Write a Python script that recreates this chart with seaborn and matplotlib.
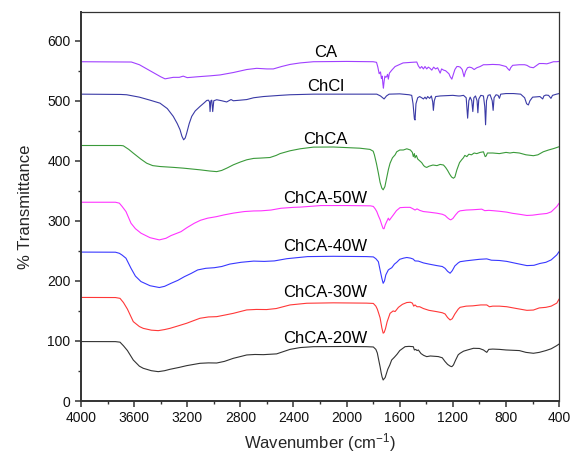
import numpy as np
import pandas as pd
import seaborn as sns
import matplotlib
matplotlib.use("Agg")
import matplotlib.pyplot as plt
from matplotlib.ticker import MultipleLocator

# FTIR spectra (wavenumber in cm-1, % transmittance, stacked offsets)
ca_wn = [4000, 3620, 3560, 3480, 3400, 3367, 3330, 3305, 3260, 3230, 3200, 3120, 3028, 2953, 2853,
         2752, 2677, 2600, 2552, 2490, 2426, 2350, 2250, 2000, 1800, 1775, 1765, 1755, 1745, 1738,
         1732, 1727, 1723, 1718, 1712, 1705, 1698, 1692, 1686, 1678, 1660, 1635, 1575, 1510, 1472,
         1460, 1447, 1435, 1422, 1410, 1397, 1385, 1372, 1359, 1345, 1330, 1315, 1296, 1285, 1270,
         1255, 1240, 1230, 1220, 1208, 1198, 1185, 1170, 1159, 1145, 1130, 1116, 1105, 1090, 1075,
         1058, 1040, 1020, 995, 970, 945, 900, 850, 800, 785, 774, 765, 750, 700, 660, 643, 620,
         594, 575, 550, 520, 493, 470, 443, 420, 400]
ca_t = [565, 564.5, 560, 550, 540, 536.5, 538, 539, 539, 541, 538.5, 540, 541.5, 543, 547,
        552, 554, 553, 553, 557, 560.5, 563, 565, 565.5, 565, 564, 556, 545, 548, 537,
        541, 528, 521, 532, 541, 539, 540.5, 544, 536, 546, 551, 557, 563, 564, 564.5,
        558, 554, 557, 553, 557, 553, 556, 554, 551, 556, 553, 555, 546, 553, 551,
        550, 547, 545, 540, 536, 543, 552, 557, 557, 556, 552, 540, 549, 555, 556,
        555, 552, 555, 557, 560, 560, 560.5, 560, 557, 553, 550.5, 555, 559, 560, 560, 559, 556,
        555, 558, 562, 562, 561.5, 563, 565, 565, 565.5]

chcl_wn = [4000, 3700, 3656, 3560, 3480, 3405, 3350, 3305, 3275, 3254, 3240, 3227, 3215, 3204,
           3185, 3166, 3140, 3104, 3070, 3053, 3040, 3032, 3028, 3022, 3015, 3008, 3000, 2978,
           2940, 2903, 2870, 2853, 2800, 2752, 2700, 2627, 2500, 2426, 2250, 1800, 1773, 1745,
           1718, 1700, 1680, 1600, 1530, 1510, 1500, 1490, 1485, 1478, 1465, 1450, 1435, 1422,
           1410, 1400, 1390, 1375, 1362, 1352, 1347, 1340, 1330, 1296, 1250, 1200, 1160, 1146,
           1120, 1100, 1089, 1080, 1070, 1058, 1050, 1042, 1030, 1018, 1012, 1005, 990, 970, 960,
           954, 947, 935, 920, 904, 897, 890, 875, 860, 850, 840, 800, 744, 690, 660, 645, 632,
           620, 600, 570, 545, 524, 515, 500, 480, 462, 450, 420, 400]
chcl_t = [511, 510.5, 510, 506, 501, 496, 487, 474, 462, 451.7, 441, 435, 438, 446,
          462, 474, 483, 490.5, 497, 500.5, 501, 498, 482, 500, 501, 482, 500, 501.7,
          500, 498, 502, 500, 501, 502, 505, 507, 509, 510, 511, 511, 511, 508,
          503, 508, 511, 511.5, 510, 509, 495, 470, 468, 495, 505, 507, 505, 503,
          506, 503, 507, 504, 508, 498, 484, 500, 507, 508, 508.5, 509, 508, 508,
          509, 505, 471, 500, 506, 500, 482, 505, 508, 500, 480, 503, 509, 508, 490,
          460, 500, 509, 510, 500, 484, 505, 510, 509, 504, 511, 512, 512, 511, 505, 495, 493,
          500, 506, 506.5, 507, 503, 508, 509.5, 509, 504, 509, 511, 512]

chca_wn = [4000, 3700, 3681, 3640, 3606, 3550, 3505, 3460, 3405, 3300, 3230, 3104, 3030, 2978,
           2940, 2900, 2853, 2800, 2752, 2700, 2652, 2577, 2530, 2501, 2426, 2350, 2250, 2100,
           1900, 1824, 1800, 1791, 1775, 1761, 1748, 1735, 1725, 1712, 1700, 1685, 1673, 1655,
           1635, 1623, 1600, 1573, 1547, 1520, 1505, 1498, 1490, 1485, 1475, 1465, 1450, 1435,
           1420, 1409, 1397, 1380, 1350, 1320, 1296, 1271, 1255, 1240, 1225, 1210, 1196, 1185,
           1170, 1150, 1133, 1121, 1110, 1095, 1080, 1060, 1040, 1020, 995, 970, 957, 950, 940,
           900, 850, 800, 770, 744, 700, 650, 594, 560, 520, 480, 440, 400]
chca_t = [425.5, 425.5, 425, 419, 412.8, 403, 396, 392, 390.5, 389, 387.8, 385, 383, 382,
          384, 388, 393.3, 398, 401.7, 404, 404.5, 405.5, 409, 412, 416.7, 420, 422.8, 423,
          421, 419, 416, 410, 395, 379.5, 364, 354.5, 351.7, 357, 370, 386, 396, 405,
          410, 415, 418, 418, 420, 418, 414, 407, 412, 405, 409, 403, 400, 397,
          392, 390, 389, 391, 393, 392, 394, 393, 389, 384, 378, 373, 371, 373,
          385, 397, 402, 405, 409, 407, 411, 410, 413, 412, 414, 415, 407, 408, 413,
          413, 412, 414, 413, 414, 413, 410, 408.5, 410, 415, 418, 420.5, 423.5]

w50_wn = [4000, 3740, 3711, 3690, 3661, 3623, 3590, 3548, 3480, 3410, 3360, 3322, 3247, 3200,
          3147, 3100, 3046, 2980, 2921, 2850, 2770, 2700, 2644, 2570, 2494, 2400, 2343, 2193,
          2000, 1820, 1799, 1785, 1773, 1760, 1748, 1735, 1725, 1718, 1710, 1700, 1686, 1678,
          1665, 1648, 1625, 1598, 1560, 1522, 1500, 1485, 1470, 1450, 1422, 1380, 1321, 1280,
          1259, 1240, 1225, 1216, 1200, 1180, 1160, 1146, 1100, 1050, 983, 960, 930, 900, 850,
          794, 750, 700, 643, 600, 550, 493, 460, 418, 400]
w50_t = [331, 331, 329.5, 324, 315.5, 296, 287, 279.5, 272, 268.3, 271, 275.5, 282, 289,
         296, 301, 304.5, 307, 310, 313, 315.5, 316.5, 316.7, 318, 321, 322.5, 323, 325.5,
         325.5, 325, 324, 320, 315.5, 308, 302, 293, 287, 287, 293, 298, 304.5, 301,
         305, 310, 317, 322, 322.5, 322.5, 320, 318, 320, 317.5, 315.5, 314.5, 312.8, 311,
         309, 305, 302.5, 301.7, 304, 310, 315, 316.7, 318, 318.5, 319.5, 317, 317.5, 317, 316,
         314.5, 312.5, 311, 309, 309.5, 311, 312.3, 315, 323.9, 329.5]

w40_wn = [4000, 3740, 3711, 3690, 3661, 3623, 3590, 3548, 3480, 3410, 3370, 3322, 3270, 3222,
          3170, 3121, 3060, 2996, 2940, 2880, 2795, 2700, 2620, 2544, 2450, 2293, 2100, 1850,
          1799, 1780, 1761, 1748, 1735, 1725, 1715, 1705, 1686, 1675, 1660, 1640, 1623, 1600,
          1570, 1547, 1520, 1500, 1485, 1460, 1422, 1380, 1321, 1280, 1259, 1240, 1221, 1205,
          1185, 1160, 1146, 1100, 1040, 1000, 945, 910, 850, 794, 720, 643, 590, 546, 500, 460,
          418, 400]
w40_t = [248, 247.8, 246, 243, 237.8, 221, 208, 198.9, 192, 189, 191, 196, 201, 207,
         212.5, 218.3, 221, 222, 224, 228, 231, 233, 232.5, 233.3, 237, 240.5, 241, 240.5,
         240, 237, 232, 218, 204.5, 196, 200, 210, 218.3, 220, 222, 228, 231, 236,
         238, 239, 238, 236.5, 233.3, 233, 230, 228, 225.5, 224, 221, 216, 212.8, 217,
         225, 230, 232, 233.5, 235, 236, 236.7, 234.5, 234, 232.5, 229, 225.5, 226, 229, 231, 235,
         243.3, 249]

w30_wn = [4000, 3740, 3706, 3680, 3650, 3606, 3560, 3531, 3470, 3418, 3370, 3330, 3270, 3204,
          3150, 3104, 3040, 2978, 2920, 2853, 2800, 2752, 2680, 2602, 2530, 2426, 2300, 2100,
          1850, 1799, 1780, 1769, 1760, 1748, 1735, 1725, 1718, 1708, 1695, 1673, 1650, 1635,
          1610, 1580, 1547, 1520, 1505, 1495, 1485, 1470, 1450, 1422, 1380, 1321, 1280, 1259,
          1240, 1221, 1205, 1185, 1160, 1146, 1100, 1050, 990, 945, 925, 900, 850, 794, 720,
          643, 594, 550, 500, 460, 418, 400]
w30_t = [172.5, 172.3, 171, 164, 153, 132.2, 124, 121, 118, 117.2, 119, 121, 125, 129.5,
         134, 137.8, 140, 140.5, 143, 146, 149, 151.7, 152.5, 152.3, 154, 160, 162.8, 163.5,
         163, 162.5, 158, 153, 147, 138.5, 122, 113, 114, 120, 132, 146, 150, 149,
         156, 161, 164, 164.5, 163, 158, 160, 157, 157, 154, 151, 148.8, 147, 145,
         139, 135, 137, 145, 153, 156, 158, 158.5, 160, 160, 157, 158, 158, 157, 154,
         151, 151.5, 155, 156, 158, 163, 170]

w20_wn = [4000, 3740, 3706, 3680, 3650, 3606, 3560, 3531, 3470, 3418, 3370, 3330, 3260, 3204,
          3150, 3104, 3040, 2978, 2920, 2853, 2800, 2752, 2690, 2627, 2527, 2426, 2350, 2250,
          2000, 1850, 1799, 1780, 1769, 1760, 1748, 1740, 1733, 1725, 1718, 1710, 1700, 1690,
          1675, 1661, 1640, 1620, 1600, 1560, 1530, 1498, 1490, 1480, 1470, 1460, 1440, 1420,
          1397, 1370, 1340, 1310, 1280, 1260, 1240, 1220, 1208, 1196, 1180, 1160, 1146, 1120,
          1090, 1045, 1000, 970, 945, 930, 900, 850, 800, 700, 650, 594, 550, 500, 460, 420, 400]
w20_t = [99, 98.9, 98, 92, 84, 68.3, 58, 54.5, 50.5, 48.9, 50.5, 52.8, 56, 58.9,
         61, 62.8, 63.5, 63.3, 66, 71.1, 74, 76.7, 77.5, 77.2, 78.5, 86, 89, 90.5,
         90.8, 90.5, 90, 86, 80, 70, 57, 47, 40, 35, 37, 39, 46, 53,
         60, 68.3, 73, 78, 84, 90.5, 91, 90.5, 85, 86, 84, 85, 79, 76,
         73.9, 75, 74.5, 74, 72, 66, 61, 58, 57.2, 60, 68, 77, 79.5, 83,
         85, 87.8, 87.5, 85, 81, 86, 86.5, 86, 85, 84, 81, 79.5, 81, 84, 87, 92, 95]

names = ["CA", "ChCl", "ChCA", "ChCA-50W", "ChCA-40W", "ChCA-30W", "ChCA-20W"]
label_y = [580, 524, 435, 338, 257, 180.5, 104.5]
label_x = 2160

series = [(ca_wn, ca_t, "#a040ff"), (chcl_wn, chcl_t, "#3a3aa6"), (chca_wn, chca_t, "#3a9a3a"),
          (w50_wn, w50_t, "#ff33ff"), (w40_wn, w40_t, "#3838ff"), (w30_wn, w30_t, "#ff3838"),
          (w20_wn, w20_t, "#333333")]

sns.set_style("ticks")
plt.rcParams['font.family'] = ['Liberation Sans', 'DejaVu Sans']
plt.rcParams['mathtext.fontset'] = 'custom'
plt.rcParams['mathtext.rm'] = 'Liberation Sans'
plt.rcParams['mathtext.default'] = 'regular'

fig = plt.figure(figsize=(5.7, 4.57), dpi=100)
ax = fig.add_axes([0.142, 0.1225, 0.839, 0.8515])

for (wn, t, col), name in zip(series, names):
    df = pd.DataFrame({"wn": wn, "t": t})
    sns.lineplot(data=df, x="wn", y="t", color=col, linewidth=0.8, estimator=None, ax=ax)

for name, yy in zip(names, label_y):
    ax.text(label_x, yy, name, fontsize=12, ha="center", va="center", color="black")

ax.set_xlim(4000, 400)
ax.set_ylim(0, 648)
ax.xaxis.set_major_locator(MultipleLocator(400))
ax.xaxis.set_minor_locator(MultipleLocator(200))
ax.yaxis.set_major_locator(MultipleLocator(100))
ax.yaxis.set_minor_locator(MultipleLocator(50))
ax.tick_params(which="major", direction="out", length=4, width=1.1, labelsize=10,
               color="#333333", labelcolor="#111111")
ax.tick_params(which="minor", direction="out", length=2.5, width=1.0, color="#333333")
ax.tick_params(axis="both", which="both", top=False, right=False)
for s in ["left", "bottom"]:
    ax.spines[s].set_linewidth(1.4)
    ax.spines[s].set_color("#333333")
for s in ["top", "right"]:
    ax.spines[s].set_linewidth(0.9)
    ax.spines[s].set_color("#333333")

ax.set_xlabel("Wavenumber (cm$^{-1}$)", fontsize=12, labelpad=4)
ax.set_ylabel("% Transmittance", fontsize=12, labelpad=10)

fig.savefig("out.png", dpi=100)
